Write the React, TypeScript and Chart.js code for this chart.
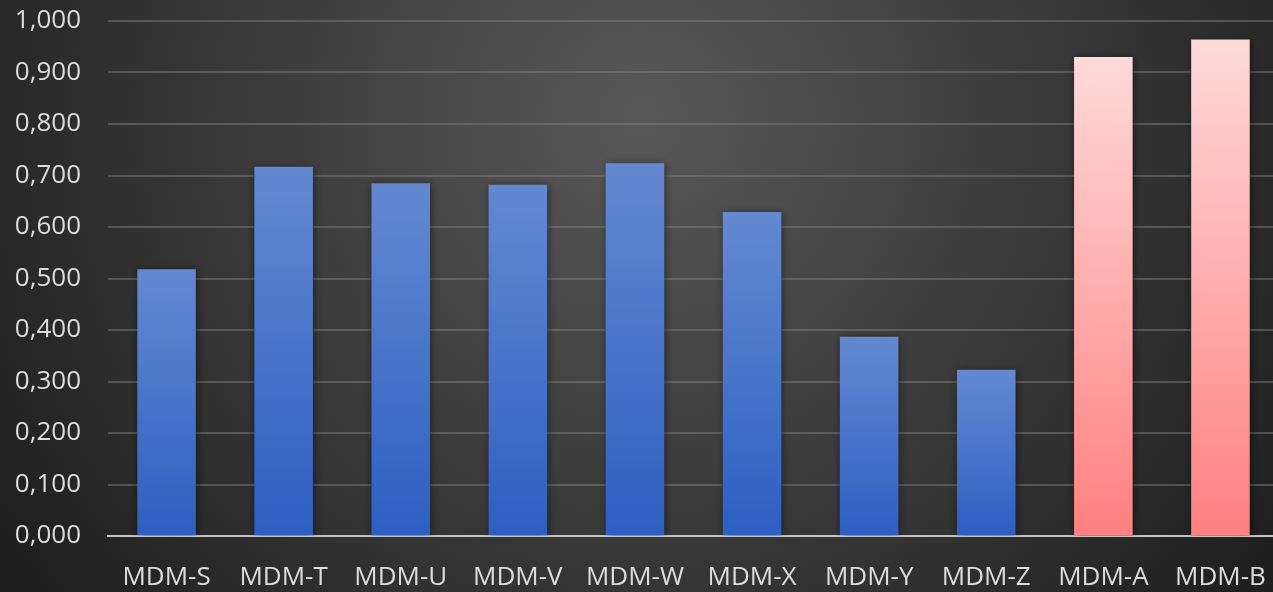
import React, { useEffect, useRef } from "react";
import { Chart, registerables } from "chart.js";

Chart.register(...registerables);

const categories = ["MDM-S", "MDM-T", "MDM-U", "MDM-V", "MDM-W", "MDM-X", "MDM-Y", "MDM-Z", "MDM-A", "MDM-B"];
const values = [0.518, 0.717, 0.685, 0.682, 0.724, 0.629, 0.387, 0.323, 0.930, 0.964];
const highlighted = [false, false, false, false, false, false, false, false, true, true];
const yMin = 0;
const yMax = 1;
const yStep = 0.1;

const FONT = "'Open Sans', 'Noto Sans', sans-serif";

const bgPlugin = {
  id: "bgPlugin",
  beforeDraw(chart: any) {
    const ctx = chart.ctx;
    const w = chart.width;
    const h = chart.height;
    ctx.save();
    const g = ctx.createRadialGradient(w / 2, h * 0.2, 0, w / 2, h * 0.2, 760);
    g.addColorStop(0, "#585858");
    g.addColorStop(1, "#1f1f1f");
    ctx.fillStyle = g;
    ctx.fillRect(0, 0, w, h);
    ctx.restore();
  },
};

const shadowPlugin = {
  id: "shadowPlugin",
  beforeDatasetsDraw(chart: any) {
    const ctx = chart.ctx;
    ctx.save();
    ctx.shadowColor = "rgba(0,0,0,0.5)";
    ctx.shadowBlur = 8;
    ctx.shadowOffsetX = 1;
    ctx.shadowOffsetY = 1;
  },
  afterDatasetsDraw(chart: any) {
    chart.ctx.restore();
  },
};

function barColor(context: any) {
  const i = context.dataIndex;
  const hi = highlighted[i];
  const fallback = hi ? "#ffaaaa" : "#4472c4";
  const chart = context.chart;
  const y = chart.scales && chart.scales.y;
  if (!y || context.type !== "data") return fallback;
  const top = y.getPixelForValue(values[i]);
  const bottom = y.getPixelForValue(0);
  if (!isFinite(top) || !isFinite(bottom) || top === bottom) return fallback;
  const g = chart.ctx.createLinearGradient(0, top, 0, bottom);
  if (hi) {
    g.addColorStop(0, "#ffd9d9");
    g.addColorStop(1, "#ff8080");
  } else {
    g.addColorStop(0, "#6389d0");
    g.addColorStop(1, "#2d5fc2");
  }
  return g;
}

export default function App() {
  const ref = useRef<HTMLCanvasElement>(null);
  useEffect(() => {
    if (!ref.current) return;
    const chart = new Chart(ref.current, {
      type: "bar",
      data: {
        labels: categories,
        datasets: [
          {
            data: values,
            backgroundColor: barColor as any,
            borderWidth: 0,
            categoryPercentage: 1,
            barPercentage: 0.5,
          },
        ],
      },
      plugins: [bgPlugin, shadowPlugin],
      options: {
        animation: false,
        responsive: false,
        maintainAspectRatio: false,
        layout: { padding: { top: 21, right: 4, left: 0, bottom: 0 } },
        plugins: { legend: { display: false }, tooltip: { enabled: false } },
        scales: {
          x: {
            grid: { display: false, drawTicks: false },
            border: { display: true, color: "#c4c4c4", width: 2 },
            ticks: { color: "#dcdcdc", font: { family: FONT, size: 26 }, padding: 26, maxRotation: 0, autoSkip: false },
            afterFit(scale: any) {
              scale.height = 56;
              scale.paddingLeft = 0;
              scale.paddingRight = 0;
            },
          },
          y: {
            min: yMin,
            max: yMax,
            grid: { color: "rgba(130,130,130,0.48)", lineWidth: 2, drawTicks: false },
            border: { display: false },
            ticks: {
              stepSize: yStep,
              color: "#dcdcdc",
              font: { family: FONT, size: 26 },
              padding: 27,
              callback: (v: any) => Number(v).toFixed(3).replace(".", ","),
            },
            afterFit(scale: any) {
              scale.width = 108;
              scale.paddingTop = 0;
              scale.paddingBottom = 0;
            },
          },
        },
      },
    });
    return () => chart.destroy();
  }, []);
  return (
    <div style={{ position: "fixed", left: 0, top: 0, width: 1273, height: 592, overflow: "hidden" }}>
      <canvas ref={ref} width={1283} height={592} style={{ display: "block" }} />
    </div>
  );
}
